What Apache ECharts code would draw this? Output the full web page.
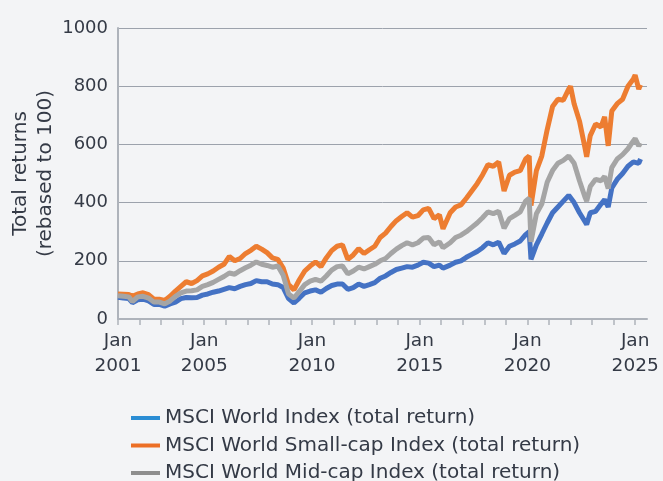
<!DOCTYPE html>
<html><head><meta charset="utf-8">
<script src="https://cdn.jsdelivr.net/npm/echarts@6/dist/echarts.min.js"></script>
<style>html,body{margin:0;padding:0;background:#f3f4f6}#c{width:663px;height:481px}</style>
</head><body><div id="c"></div>
<script>
const dates = ["2001-01","2001-04","2001-07","2001-09","2001-12","2002-03","2002-06","2002-09","2002-12","2003-03","2003-06","2003-09","2003-12",
"2004-03","2004-06","2004-09","2004-12","2005-03","2005-06","2005-09","2005-12","2006-03","2006-06","2006-09","2006-12",
"2007-03","2007-06","2007-09","2007-12","2008-03","2008-06","2008-09","2008-12","2009-03","2009-06","2009-09","2009-12",
"2010-03","2010-06","2010-09","2010-12","2011-03","2011-06","2011-09","2011-12","2012-03","2012-06","2012-09","2012-12",
"2013-03","2013-06","2013-09","2013-12","2014-03","2014-06","2014-09","2014-12","2015-03","2015-06","2015-09","2015-12",
"2016-02","2016-06","2016-09","2016-12","2017-03","2017-06","2017-09","2017-12","2018-03","2018-06","2018-09","2018-12",
"2019-03","2019-06","2019-09","2019-12","2020-02","2020-03","2020-06","2020-09","2020-12","2021-03","2021-06","2021-09","2021-12",
"2022-01","2022-03","2022-06","2022-09","2022-10","2022-12","2023-03","2023-06","2023-08","2023-10","2023-12",
"2024-03","2024-06","2024-09","2024-12","2025-01","2025-03","2025-04"];
const worldIndex = [75,72,70,56,66,68,62,50,50,44,52,58,70,
74,73,74,82,86,92,96,102,108,104,112,118,
122,132,128,128,120,118,108,70,55,72,90,96,
100,92,105,115,120,120,102,108,120,112,118,125,
140,148,160,170,175,180,178,185,195,192,180,185,
175,185,195,200,212,222,232,245,262,255,264,225,
250,258,268,290,300,205,255,292,330,365,385,405,425,
420,400,365,335,325,365,370,395,410,385,450,
480,500,525,540,545,535,550];
const smallCapIndex = [86,85,84,78,86,90,84,68,68,64,78,96,112,
128,122,132,148,155,165,178,188,215,200,208,225,
236,250,240,228,210,205,175,118,100,135,165,182,
196,180,210,235,250,255,205,220,242,225,238,250,
280,295,318,338,352,365,350,355,375,380,345,358,
310,365,385,392,415,440,465,495,530,525,540,440,
494,505,510,550,560,390,510,560,650,730,755,752,790,
800,740,680,590,557,630,670,660,695,595,715,
740,755,800,825,838,790,805];
const midCapIndex = [80,78,76,60,76,78,72,58,58,52,62,78,90,
96,97,100,112,118,126,136,146,158,154,166,176,
185,196,188,184,178,182,150,86,72,95,118,130,
136,130,148,168,180,182,155,165,178,172,180,188,
200,208,225,240,252,262,255,262,278,280,255,265,
245,262,280,288,300,315,330,348,368,362,370,312,
345,356,368,405,415,265,362,395,470,510,535,545,560,
555,535,475,420,405,455,480,475,490,448,520,
550,565,585,612,620,595,605];
const seriesNames = ["MSCI World Index (total return)","MSCI World Small-cap Index (total return)","MSCI World Mid-cap Index (total return)"];
const yTicks = [0,200,400,600,800,1000];
const xLabelYears = [2001,2005,2010,2015,2020,2025];
const xTickYears = []; for (let y = 2001; y <= 2025; y++) xTickYears.push(y);

const toYear = s => { const [y,m] = s.split('-').map(Number); return y + (m-1)/12; };
const mk = arr => dates.map((d,i)=>[toYear(d), arr[i]]);
const FONT = 'DejaVu Sans';
const TXT = '#343a46';
const lineColors = ['#4472c4','#ed7d31','#a5a5a5'];
const legendColors = ['#2a8dd4','#ec6f26','#8e8e8e'];
const chart = echarts.init(document.getElementById('c'));
chart.setOption({
  backgroundColor:'#f3f4f6',
  animation:false,
  textStyle:{fontFamily:FONT},
  grid:{left:118,right:16,top:28,bottom:162, containLabel:false, outerBoundsMode:'none'},
  legend:{
    orient:'vertical', left:126, top:402, height:120, itemWidth:29, itemHeight:4, itemGap:5.5, itemTextGap:8, icon:'rect',
    textStyle:{fontSize:20, color:TXT, fontFamily:FONT, lineHeight:22},
    data: seriesNames.map((n,i)=>({name:n, itemStyle:{color:legendColors[i]}}))
  },
  xAxis:{
    type:'value', min:2001, max:2025.55, interval:1,
    axisLine:{show:true, lineStyle:{color:'#aeb3bb', width:2}},
    axisTick:{show:true, length:6, lineStyle:{color:'#aeb3bb', width:1.5}, customValues:xTickYears},
    axisLabel:{customValues:xLabelYears, formatter:v=>'{a|Jan}\n{a|'+Math.round(v)+'}', margin:10,
      rich:{a:{fontSize:18.5, color:TXT, lineHeight:25, fontFamily:FONT}}},
    splitLine:{show:false}
  },
  yAxis:{
    type:'value', min:0, max:1000, interval:200,
    name:'Total returns\n(rebased to 100)', nameLocation:'middle', nameGap:60, nameRotate:90, nameMoveOverlap:false,
    nameTextStyle:{fontSize:20, color:TXT, lineHeight:25, fontFamily:FONT},
    axisLine:{show:true, lineStyle:{color:'#aeb3bb', width:2}},
    axisTick:{show:false},
    axisLabel:{fontSize:18, color:TXT, margin:10, fontFamily:FONT, formatter:v=>String(v)},
    splitLine:{lineStyle:{color:'#9ca2ac', width:1}}
  },
  series:[worldIndex, smallCapIndex, midCapIndex].map((arr,i)=>({
    name:seriesNames[i], type:'line', data:mk(arr), showSymbol:false, symbol:'none',
    lineStyle:{color:lineColors[i], width:5}, itemStyle:{color:lineColors[i]}
  }))
});
</script></body></html>
